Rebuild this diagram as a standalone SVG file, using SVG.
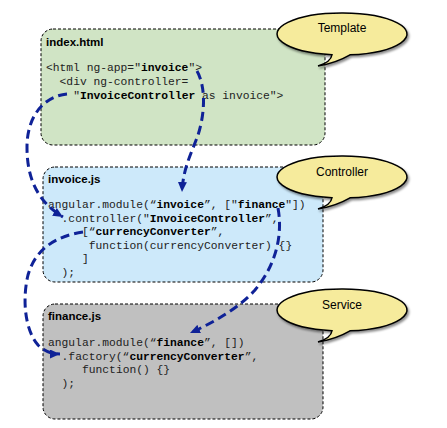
<svg xmlns="http://www.w3.org/2000/svg" width="447" height="428" viewBox="0 0 447 428">
<style>
.box{stroke:#000;stroke-width:1;stroke-dasharray:3 2}
.title{font-family:"Liberation Sans",Arial,sans-serif;font-weight:bold;font-size:11.5px;fill:#000}
.code{font-family:"Liberation Mono","Courier New",monospace;font-size:11.3px;fill:#222}
.b{font-weight:bold;fill:#000}
.bubble{fill:#f6eb9c;stroke:#000;stroke-width:1.5;filter:url(#sh)}
.blabel{font-family:"Liberation Sans",Arial,sans-serif;font-size:12px;fill:#000;text-anchor:middle}
.conn{fill:none;stroke:#0f2297;stroke-width:3;stroke-dasharray:9 5;marker-end:url(#ah)}
</style>
<defs>
<filter id="sh" x="-20%" y="-30%" width="140%" height="170%">
<feDropShadow dx="1.5" dy="2" stdDeviation="1.2" flood-color="#000" flood-opacity="0.45"/>
</filter>
<marker id="ah" markerUnits="userSpaceOnUse" markerWidth="10" markerHeight="9" refX="10" refY="4.5" orient="auto">
<path d="M0,0 L10,4.5 L0,9 Z" fill="#0f2297"/>
</marker>
<path id="bub" d="M-10,20.75 Q-11,28 -24,32 Q-6,29 8,20.84 A65,21 0 1 0 -10,20.75 Z"/>
</defs>
<g id="index-html">
<rect class="box" x="41" y="29" width="284" height="116" rx="12" fill="#d0e4c5"/>
<text class="title" x="46" y="46">index.html</text>
<text class="code" x="46" y="71">&lt;html ng-app="<tspan class="b">invoice</tspan>"&gt;</text>
<text class="code" x="59.6" y="85">&lt;div ng-controller=</text>
<text class="code" x="73.2" y="99">"<tspan class="b">InvoiceController</tspan> as invoice"&gt;</text>
</g>
<g id="invoice-js">
<rect class="box" x="43" y="167" width="280" height="115" rx="12" fill="#cde9fa"/>
<text class="title" x="48" y="183">invoice.js</text>
<text class="code" x="48" y="208">angular.module(“<tspan class="b">invoice</tspan>”, ["<tspan class="b">finance</tspan>"])</text>
<text class="code" x="61.6" y="221.6">.controller("<tspan class="b">InvoiceController</tspan>”,</text>
<text class="code" x="82" y="235.2">[“<tspan class="b">currencyConverter</tspan>”,</text>
<text class="code" x="88.8" y="248.8">function(currencyConverter) {}</text>
<text class="code" x="82" y="262.4">]</text>
<text class="code" x="61.6" y="276">);</text>
</g>
<g id="finance-js">
<rect class="box" x="43" y="304" width="280" height="115" rx="12" fill="#c0c0c0"/>
<text class="title" x="48" y="320">finance.js</text>
<text class="code" x="48" y="346">angular.module(“<tspan class="b">finance</tspan>”, [])</text>
<text class="code" x="61.6" y="359.6">.factory(“<tspan class="b">currencyConverter</tspan>”,</text>
<text class="code" x="82" y="373.2">function() {}</text>
<text class="code" x="61.6" y="386.8">);</text>
</g>
<g id="callout-template">
<use href="#bub" class="bubble" transform="translate(342,34)"/>
<text class="blabel" x="342" y="32">Template</text>
</g>
<g id="callout-controller">
<use href="#bub" class="bubble" transform="translate(342,177)"/>
<text class="blabel" x="342" y="176">Controller</text>
</g>
<g id="callout-service">
<use href="#bub" class="bubble" transform="translate(342,310)"/>
<text class="blabel" x="342" y="309">Service</text>
</g>
<g id="connectors">
<path class="conn" d="M197,71 C205,85 206,110 198,135 C192,152 183,168 182,192"/>
<path class="conn" d="M67,94 C45,96 27,115 27,147 C27,175 35,200 63,217"/>
<path class="conn" d="M83,232 C55,236 35,250 28,275 C22,300 25,330 38,345 C45,352 52,354 60,354"/>
<path class="conn" d="M278,208 C283,235 276,265 255,290 C240,307 215,322 190,333"/>
</g>
</svg>
